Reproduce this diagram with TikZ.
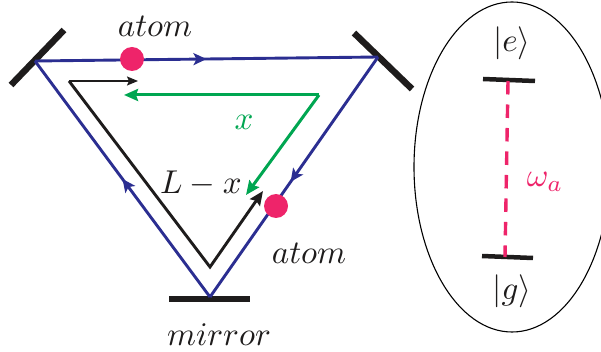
\documentclass[tikz,border=0pt]{standalone}
\usetikzlibrary{arrows.meta,decorations.markings}
\definecolor{cavblue}{RGB}{43,46,145}
\definecolor{atompink}{RGB}{238,36,106}
\definecolor{xgreen}{RGB}{0,166,81}
\definecolor{inkblack}{RGB}{30,28,28}
\tikzset{
  x=1pt,y=-1pt,
  mirrorbar/.style={draw=inkblack,line width=6.5pt},
  levelbar/.style={draw=inkblack,line width=4.5pt},
  beam/.style={draw=cavblue,line width=2.9pt},
  beamarrow/.style={postaction={decorate,decoration={markings,mark=at position #1 with {\arrow{Stealth[length=13pt,width=12pt,inset=3pt,fill=cavblue]}}}}},
  path black/.style={draw=inkblack,line width=2.9pt},
  green path/.style={draw=xgreen,line width=3pt,-{Stealth[length=14pt,width=12pt,inset=2pt]}},
  atomdot/.style={circle,fill=atompink,inner sep=0pt,minimum size=24pt},
  lbl/.style={inner sep=0pt,scale=3.3},
}
\begin{document}
\begin{tikzpicture}
\useasboundingbox (0,0) rectangle (601,352);
\begin{scope}
\clip (0,0) rectangle (601,345);
% coordinates
\coordinate (ml) at (35,61);
\coordinate (mr) at (378,57);
\coordinate (mb) at (210,297);
\coordinate (mlA) at (11,85);
\coordinate (mlB) at (64,30);
\coordinate (mrA) at (354,33);
\coordinate (mrB) at (412,89);
\coordinate (mbA) at (169,299);
\coordinate (mbB) at (250,299);
% mirrors
\draw[mirrorbar] (mlA) -- (mlB);
\draw[mirrorbar] (mrA) -- (mrB);
\draw[mirrorbar] (mbA) -- (mbB);
% cavity
\draw[beam,beamarrow=0.5] (ml) -- (mr);
\draw[beam,beamarrow=0.52] (mr) -- (mb);
\draw[beam,beamarrow=0.5] (mb) -- (ml);
% black path
\coordinate (pa) at (69,81);
\coordinate (pb) at (138,81);
\coordinate (pc) at (210,267);
\coordinate (pd) at (263,191);
\draw[inkblack,line width=1.6pt,-{Stealth[length=11pt,width=9pt,inset=2pt]}] (pa) -- (pb);
\draw[path black,-{Stealth[length=14pt,width=12pt,inset=2pt]},line join=miter] (pa) -- (pc) -- (pd);
% green path
\coordinate (ga) at (319,95);
\coordinate (gb) at (124,95);
\coordinate (gc) at (246,195);
\draw[green path] (ga) -- (gb);
\draw[green path] (ga) -- (gc);
% atoms
\node[atomdot] (atom1) at (132,59) {};
\node[atomdot] (atom2) at (276,206) {};
% labels
\node[lbl,text=inkblack] (t1) at (155,26) {$atom$};
\node[lbl,text=inkblack] (t2) at (309,253) {$atom$};
\node[lbl,text=inkblack] (t3) at (219,335) {$mirror$};
\node[lbl,text=inkblack] (t4) at (201,184) {$L-x$};
\node[lbl,text=xgreen] (t5) at (244,122) {$x$};
% atom levels
\draw[black,line width=1.1pt] (512,167) ellipse [x radius=98,y radius=165];
\coordinate (ea) at (483,79);
\coordinate (eb) at (535,81);
\coordinate (gaa) at (482,256);
\coordinate (gbb) at (533,258);
\draw[levelbar] (ea) -- (eb);
\draw[levelbar] (gaa) -- (gbb);
\coordinate (e0) at (508,81);
\coordinate (g0) at (505,257);
\draw[draw=atompink,line width=3.4pt,dash pattern=on 13.5pt off 10pt] (e0) -- (g0);
\node[lbl,text=inkblack] (ke) at (512,43) {$|e\rangle$};
\node[lbl,text=inkblack] (kg) at (512,291) {$|g\rangle$};
\node[lbl,text=atompink] (wa) at (545,182) {$\omega_a$};
\end{scope}
\end{tikzpicture}
\end{document}
